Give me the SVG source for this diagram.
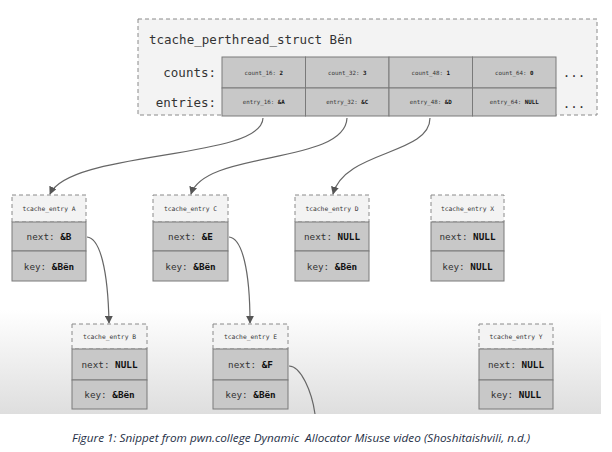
<svg xmlns="http://www.w3.org/2000/svg" width="612" height="452" viewBox="0 0 612 452">
<style>
.mono{font-family:"DejaVu Sans Mono","Liberation Mono",monospace;fill:#333}
.big{font-size:12.5px}
.hdr{font-size:6.3px;text-anchor:middle}
.fld{font-size:9.3px;text-anchor:middle}
.cell{font-size:5.8px;text-anchor:middle}
.b{font-weight:bold;fill:#111}
.box{fill:#c8c8c8;stroke:#7a7a7a;stroke-width:1}
.head{fill:#f3f3f3;stroke:#8a8a8a;stroke-width:1;stroke-dasharray:4 3}
.conn{fill:none;stroke:#666;stroke-width:1.2}
.cap{font-family:"Open Sans","Liberation Sans",sans-serif;font-style:italic;font-size:10.2px;fill:#1f3047;white-space:pre}
</style>
<defs>
<linearGradient id="bg" x1="0" y1="0" x2="0" y2="1">
<stop offset="0" stop-color="#ffffff"/>
<stop offset="1" stop-color="#dedede"/>
</linearGradient>
<marker id="arr" viewBox="0 0 10 10" refX="9" refY="5" markerWidth="8" markerHeight="8" markerUnits="userSpaceOnUse" orient="auto">
<path d="M0,0 L10,5 L0,10 z" fill="#555"/>
</marker>
</defs>
<rect x="0" y="0" width="612" height="452" fill="#fff"/>
<rect x="0" y="310" width="601" height="104" fill="url(#bg)"/>

<g id="perthread">
<rect x="138" y="19" width="459" height="96" class="head"/>
<text x="149" y="44" class="mono big">tcache_perthread_struct Bën</text>
<text x="216" y="77" class="mono big" text-anchor="end">counts:</text>
<text x="216" y="107" class="mono big" text-anchor="end">entries:</text>
<rect x="222" y="57" width="83.5" height="31" class="box"/>
<rect x="305.5" y="57" width="83.5" height="31" class="box"/>
<rect x="389" y="57" width="83.5" height="31" class="box"/>
<rect x="472.5" y="57" width="83.5" height="31" class="box"/>
<rect x="222" y="88" width="83.5" height="28" class="box"/>
<rect x="305.5" y="88" width="83.5" height="28" class="box"/>
<rect x="389" y="88" width="83.5" height="28" class="box"/>
<rect x="472.5" y="88" width="83.5" height="28" class="box"/>
<text x="263.75" y="74.5" class="mono cell">count_16: <tspan class="b">2</tspan></text>
<text x="347.25" y="74.5" class="mono cell">count_32: <tspan class="b">3</tspan></text>
<text x="430.75" y="74.5" class="mono cell">count_48: <tspan class="b">1</tspan></text>
<text x="514.25" y="74.5" class="mono cell">count_64: <tspan class="b">0</tspan></text>
<text x="263.75" y="104" class="mono cell">entry_16: <tspan class="b">&amp;A</tspan></text>
<text x="347.25" y="104" class="mono cell">entry_32: <tspan class="b">&amp;C</tspan></text>
<text x="430.75" y="104" class="mono cell">entry_48: <tspan class="b">&amp;D</tspan></text>
<text x="514.25" y="104" class="mono cell">entry_64: <tspan class="b">NULL</tspan></text>
<text x="574" y="77" class="mono big" text-anchor="middle">...</text>
<text x="574" y="108" class="mono big" text-anchor="middle">...</text>
</g>

<g id="entryA">
<rect x="12" y="195" width="74" height="27" class="head"/>
<rect x="12" y="222" width="74" height="29" class="box"/>
<rect x="12" y="251" width="74" height="30" class="box"/>
<text x="49" y="210.5" class="mono hdr">tcache_entry A</text>
<text x="49" y="240" class="mono fld">next: <tspan class="b">&amp;B</tspan></text>
<text x="49" y="269.5" class="mono fld">key: <tspan class="b">&amp;Bën</tspan></text>
</g>
<g id="entryC">
<rect x="153" y="195" width="75" height="27" class="head"/>
<rect x="153" y="222" width="75" height="29" class="box"/>
<rect x="153" y="251" width="75" height="30" class="box"/>
<text x="190.5" y="210.5" class="mono hdr">tcache_entry C</text>
<text x="190.5" y="240" class="mono fld">next: <tspan class="b">&amp;E</tspan></text>
<text x="190.5" y="269.5" class="mono fld">key: <tspan class="b">&amp;Bën</tspan></text>
</g>
<g id="entryD">
<rect x="295" y="195" width="74" height="27" class="head"/>
<rect x="295" y="222" width="74" height="29" class="box"/>
<rect x="295" y="251" width="74" height="30" class="box"/>
<text x="332" y="210.5" class="mono hdr">tcache_entry D</text>
<text x="332" y="240" class="mono fld">next: <tspan class="b">NULL</tspan></text>
<text x="332" y="269.5" class="mono fld">key: <tspan class="b">&amp;Bën</tspan></text>
</g>
<g id="entryX">
<rect x="431" y="195" width="73" height="27" class="head"/>
<rect x="431" y="222" width="73" height="29" class="box"/>
<rect x="431" y="251" width="73" height="30" class="box"/>
<text x="467.5" y="210.5" class="mono hdr">tcache_entry X</text>
<text x="467.5" y="240" class="mono fld">next: <tspan class="b">NULL</tspan></text>
<text x="467.5" y="269.5" class="mono fld">key: <tspan class="b">NULL</tspan></text>
</g>
<g id="entryB">
<rect x="72" y="324" width="75" height="25" class="head"/>
<rect x="72" y="349" width="75" height="31" class="box"/>
<rect x="72" y="380" width="75" height="29" class="box"/>
<text x="109.5" y="338.5" class="mono hdr">tcache_entry B</text>
<text x="109.5" y="368" class="mono fld">next: <tspan class="b">NULL</tspan></text>
<text x="109.5" y="397.5" class="mono fld">key: <tspan class="b">&amp;Bën</tspan></text>
</g>
<g id="entryE">
<rect x="213" y="324" width="75" height="25" class="head"/>
<rect x="213" y="349" width="75" height="31" class="box"/>
<rect x="213" y="380" width="75" height="29" class="box"/>
<text x="250.5" y="338.5" class="mono hdr">tcache_entry E</text>
<text x="250.5" y="368" class="mono fld">next: <tspan class="b">&amp;F</tspan></text>
<text x="250.5" y="397.5" class="mono fld">key: <tspan class="b">&amp;Bën</tspan></text>
</g>
<g id="entryY">
<rect x="479" y="324" width="74" height="25" class="head"/>
<rect x="479" y="349" width="74" height="31" class="box"/>
<rect x="479" y="380" width="74" height="29" class="box"/>
<text x="516" y="338.5" class="mono hdr">tcache_entry Y</text>
<text x="516" y="368" class="mono fld">next: <tspan class="b">NULL</tspan></text>
<text x="516" y="397.5" class="mono fld">key: <tspan class="b">NULL</tspan></text>
</g>

<g id="connectors">
<path class="conn" d="M263,118 C262,160 70,150 50,194" marker-end="url(#arr)"/>
<path class="conn" d="M347,118 C345,165 205,150 191,194" marker-end="url(#arr)"/>
<path class="conn" d="M430,118 C430,155 345,150 333,194" marker-end="url(#arr)"/>
<path class="conn" d="M87,237 C100,238 108,270 109,323" marker-end="url(#arr)"/>
<path class="conn" d="M229,237 C242,238 250,270 250,323" marker-end="url(#arr)"/>
<path class="conn" d="M289,366 C301,366 312,392 315,414"/>
</g>

<text x="72" y="442" class="cap" textLength="458" lengthAdjust="spacingAndGlyphs">Figure 1: Snippet from pwn.college Dynamic  Allocator Misuse video (Shoshitaishvili, n.d.)</text>
</svg>
